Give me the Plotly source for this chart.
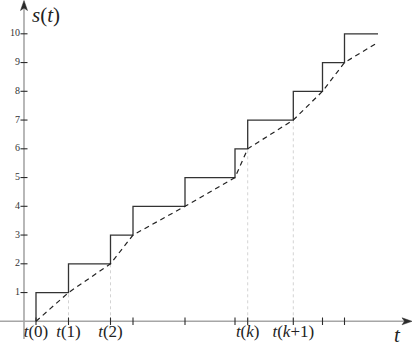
import plotly.graph_objects as go

# ---- data ----
t_pos = [0.0, 3.25, 7.45, 9.7, 14.9, 19.9, 21.17, 25.73, 28.65, 30.85]   # jump times t(i)
s_levels = [0, 1, 2, 3, 4, 5, 6, 7, 8, 9]                                 # value of s just before jump
t_end = 34.2
s_end_dashed = 9.7
t_tick_labels = ["<i>t</i>(0)", "<i>t</i>(1)", "<i>t</i>(2)", "", "", "", "<i>t</i>(<i>k</i>)", "<i>t</i>(<i>k</i>+1)", "", ""]
guide_idx = [1, 2, 6, 7]
y_ticks = [1, 2, 3, 4, 5, 6, 7, 8, 9, 10]
y_tick_labels = [str(v) for v in y_ticks]

# ---- geometry (pixel mapping: x=(px-36)/10, y=(321.3-py)/28.75) ----
W, H = 415, 349
def xd(px): return (px - 36) / 10.0
def yd(py): return (321.3 - py) / 28.75

x_range = [xd(0), xd(W)]
y_range = [yd(H), yd(0)]
y_axis_x = xd(24)

AX_COL = "#a6a6a6"
DARK = "#2b2b2b"
FONT = "Liberation Serif, Times New Roman, serif"

fig = go.Figure()

# axes lines
fig.add_trace(go.Scatter(x=[xd(0), xd(405)], y=[0, 0], mode="lines",
                         line=dict(color=AX_COL, width=1.6), hoverinfo="skip"))
fig.add_trace(go.Scatter(x=[y_axis_x, y_axis_x], y=[yd(339), yd(7)], mode="lines",
                         line=dict(color=AX_COL, width=1.6), hoverinfo="skip"))

# guide lines
gx, gy = [], []
for i in guide_idx:
    gx += [t_pos[i], t_pos[i], None]
    gy += [0, s_levels[i], None]
fig.add_trace(go.Scatter(x=gx, y=gy, mode="lines",
                         line=dict(color="#c8c8c8", width=0.8, dash="3px,3px"), hoverinfo="skip"))

# x tick marks
tx, ty = [], []
for t in t_pos:
    tx += [t, t, None]
    ty += [yd(325), yd(317.5), None]
fig.add_trace(go.Scatter(x=tx, y=ty, mode="lines", line=dict(color=DARK, width=1.1), hoverinfo="skip"))

# y tick marks
yx, yy = [], []
for v in y_ticks:
    yx += [xd(20.5), xd(27.5), None]
    yy += [v, v, None]
fig.add_trace(go.Scatter(x=yx, y=yy, mode="lines", line=dict(color=DARK, width=1.1), hoverinfo="skip"))

# staircase
sx = [t_pos[0]] + t_pos + [t_end]
sy = [s_levels[0]] + [v + 1 for v in s_levels] + [s_levels[-1] + 1]
fig.add_trace(go.Scatter(x=sx, y=sy, mode="lines", line=dict(color="#333333", width=1.3, shape="hv"),
                         hoverinfo="skip"))

# dashed interpolation
fig.add_trace(go.Scatter(x=t_pos + [t_end], y=s_levels + [s_end_dashed], mode="lines",
                         line=dict(color="#222222", width=1.2, dash="5px,4px"), hoverinfo="skip"))

# x tick labels
fig.add_trace(go.Scatter(x=t_pos, y=[yd(333)] * len(t_pos), mode="text", text=t_tick_labels,
                         textposition="middle center",
                         textfont=dict(family=FONT, size=17, color="#222"), hoverinfo="skip"))
# y tick labels
fig.add_trace(go.Scatter(x=[xd(20)] * len(y_ticks), y=y_ticks, mode="text", text=y_tick_labels,
                         textposition="middle left",
                         textfont=dict(family=FONT, size=10, color="#333"), hoverinfo="skip"))
# axis titles
fig.add_trace(go.Scatter(x=[xd(32), xd(397)], y=[yd(17), yd(337)], mode="text",
                         text=["<i>s</i>(<i>t</i>)", "<i>t</i>"],
                         textposition=["middle right", "middle center"],
                         textfont=dict(family=FONT, size=21, color="#222"), hoverinfo="skip"))

shapes = [
    # x arrow head
    dict(type="path", xref="x", yref="y",
         path=f"M {xd(412)} 0 L {xd(402)} {yd(317.8)} L {xd(404.5)} 0 L {xd(402)} {yd(324.8)} Z",
         fillcolor=DARK, line=dict(color=DARK, width=0.5)),
    # y arrow head
    dict(type="path", xref="x", yref="y",
         path=f"M {y_axis_x} {yd(0.5)} L {xd(20.5)} {yd(10.5)} L {y_axis_x} {yd(8)} L {xd(27.5)} {yd(10.5)} Z",
         fillcolor=DARK, line=dict(color=DARK, width=0.5)),
]

fig.update_layout(
    width=W, height=H, margin=dict(l=0, r=0, t=0, b=0),
    paper_bgcolor="white", plot_bgcolor="white", showlegend=False,
    xaxis=dict(range=x_range, visible=False, fixedrange=True),
    yaxis=dict(range=y_range, visible=False, fixedrange=True),
    shapes=shapes,
)

fig.write_html("out.html", config={"displayModeBar": False},
               post_script="document.body.style.margin='0';document.body.style.overflow='hidden';")
